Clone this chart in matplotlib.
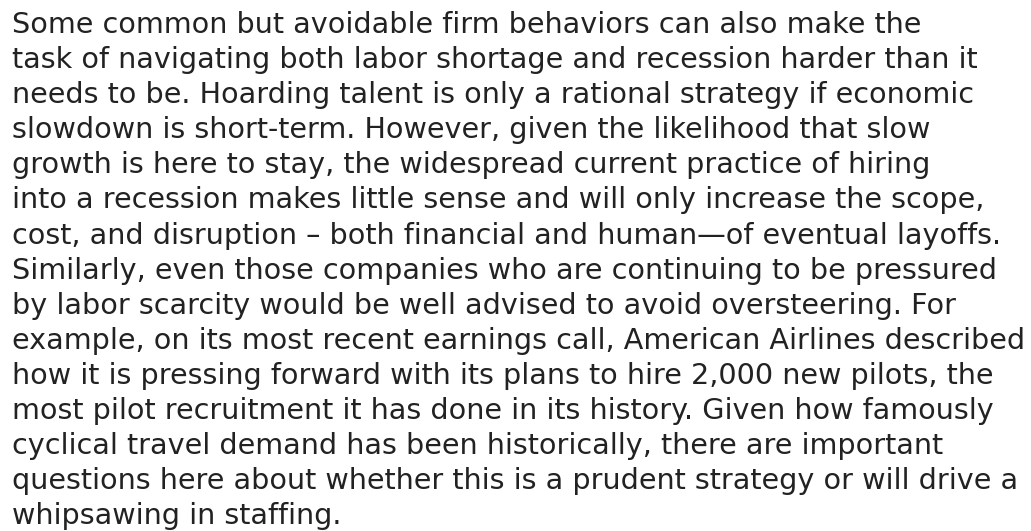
import matplotlib
matplotlib.use("Agg")
import matplotlib.pyplot as plt

# paragraph text, one entry per rendered line
lines = [
    "Some common but avoidable firm behaviors can also make the",
    "task of navigating both labor shortage and recession harder than it",
    "needs to be. Hoarding talent is only a rational strategy if economic",
    "slowdown is short-term. However, given the likelihood that slow",
    "growth is here to stay, the widespread current practice of hiring",
    "into a recession makes little sense and will only increase the scope,",
    "cost, and disruption \u2013 both financial and human\u2014of eventual layoffs.",
    "Similarly, even those companies who are continuing to be pressured",
    "by labor scarcity would be well advised to avoid oversteering. For",
    "example, on its most recent earnings call, American Airlines described",
    "how it is pressing forward with its plans to hire 2,000 new pilots, the",
    "most pilot recruitment it has done in its history. Given how famously",
    "cyclical travel demand has been historically, there are important",
    "questions here about whether this is a prudent strategy or will drive a",
    "whipsawing in staffing.",
]

W, H = 1031, 531
fig = plt.figure(figsize=(W / 100, H / 100), dpi=100)
fig.patch.set_facecolor("white")

font = "DejaVu Sans"
left_px = 12
first_base = 33
step = 35.1
target_w = 1012  # width of the longest line in pixels

# pick a font size so the widest line spans the target width
renderer = fig.canvas.get_renderer()
probe = fig.text(0, 0, lines[9], fontsize=17, family=font)
w17 = probe.get_window_extent(renderer).width
probe.remove()
size = 17 * target_w / w17

for i, line in enumerate(lines):
    y = H - (first_base + i * step)
    fig.text(left_px / W, y / H, line, fontsize=size, family=font,
             color="#222222", ha="left", va="baseline")

fig.savefig("out.png", dpi=100, facecolor="white")
